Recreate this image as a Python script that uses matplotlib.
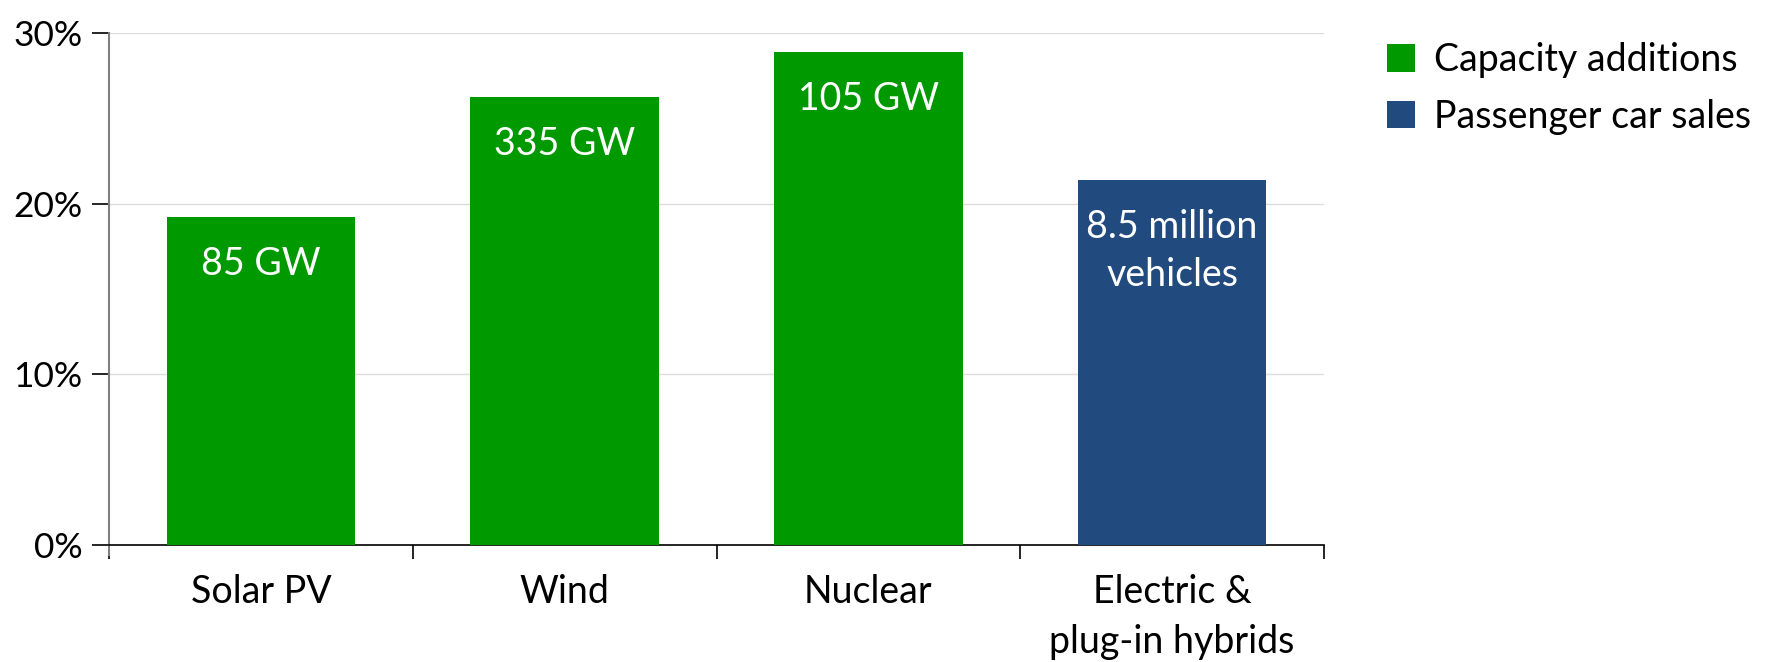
import matplotlib
matplotlib.use("Agg")
import matplotlib.pyplot as plt
from matplotlib.patches import Patch
from matplotlib.ticker import PercentFormatter

categories = ["Solar PV", "Wind", "Nuclear", "Electric &\nplug-in hybrids"]
shares = [0.1924, 0.2625, 0.2890, 0.2140]
series = ["Capacity additions", "Capacity additions", "Capacity additions", "Passenger car sales"]
bar_labels = ["85 GW", "335 GW", "105 GW", "8.5 million\nvehicles"]
yticks = [0.0, 0.10, 0.20, 0.30]
legend_names = ["Capacity additions", "Passenger car sales"]
colors = {"Capacity additions": "#009900", "Passenger car sales": "#214a7e"}

plt.rcParams['font.family'] = ['Lato', 'DejaVu Sans']
FS = 27

fig = plt.figure(figsize=(17.67, 6.62), dpi=100)
ax = fig.add_axes([109/1767, 1-545/662, (1324-109)/1767, (545-33)/662])

x = list(range(len(categories)))
bars = ax.bar(x, shares, width=0.62, color=[colors[s] for s in series], zorder=3)
for b, lab in zip(bars, bar_labels):
    ax.annotate(lab, (b.get_x() + b.get_width()/2, b.get_height()),
                xytext=(0, -21), textcoords="offset points", ha="center", va="top",
                color="white", fontsize=FS, linespacing=1.42, zorder=4)

ax.set_xlim(-0.5, len(categories) - 0.5)
ax.set_ylim(0, 0.30)
ax.set_yticks(yticks)
ax.yaxis.set_major_formatter(PercentFormatter(1.0, decimals=0))
ax.set_xticks([i - 0.5 for i in range(len(categories) + 1)], minor=False)
ax.set_xticklabels([])
ax.set_xticks(x, minor=True)
ax.set_xticklabels(categories, minor=True, fontsize=FS, linespacing=1.46, va="top")
ax.tick_params(axis="x", which="major", length=10, width=1.2, direction="out", color="black")
ax.tick_params(axis="x", which="minor", length=0, pad=21)
ax.tick_params(axis="y", length=12, width=1.2, labelsize=25.5, pad=7, color="black")
ax.grid(axis="y", color="#dddddd", linewidth=1, zorder=0)
for s in ["top", "right"]:
    ax.spines[s].set_visible(False)
ax.spines["left"].set_color("#808080")
ax.spines["left"].set_linewidth(1.5)
ax.spines["left"].set_bounds(-0.006, 0.30)
ax.spines["bottom"].set_color("black")
ax.spines["bottom"].set_linewidth(1.2)
ax.set_axisbelow(True)

handles = [Patch(facecolor=colors[n], edgecolor="none") for n in legend_names]
fig.legend(handles, legend_names, loc="upper left", bbox_to_anchor=(1372/1767, 1-27/662),
           frameon=False, fontsize=FS, handlelength=0.75, handleheight=0.75,
           handletextpad=0.5, labelspacing=0.55, borderaxespad=0)

fig.savefig("out.png", dpi=100)
